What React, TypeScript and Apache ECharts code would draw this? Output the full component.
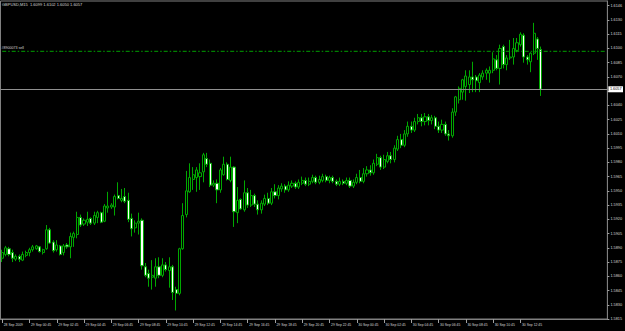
import React, { useEffect, useRef } from 'react';
import * as echarts from 'echarts';

// GBPUSD M15 candles, 28 Sep 2009 22:45 .. 30 Sep 2009 14:15
const opens = [
  1.5879, 1.5883, 1.5889, 1.5885, 1.5878, 1.5881, 1.5877, 1.5882, 1.5885, 1.5888,
  1.5889, 1.5891, 1.5885, 1.5889, 1.5909, 1.5896, 1.5888, 1.5892, 1.5885, 1.5893,
  1.5891, 1.5901, 1.5904, 1.5922, 1.5915, 1.5917, 1.5921, 1.5916, 1.5922, 1.5927,
  1.5918, 1.5932, 1.5933, 1.5933, 1.5945, 1.5940, 1.5944, 1.5940, 1.5921, 1.5911,
  1.5916, 1.5919, 1.5870, 1.5863, 1.5859, 1.5858, 1.5870, 1.5861, 1.5872, 1.5866,
  1.5870, 1.5846, 1.5842, 1.5889, 1.5925, 1.5949, 1.5962, 1.5964, 1.5965, 1.5970,
  1.5984, 1.5979, 1.5956, 1.5958, 1.5951, 1.5967, 1.5978, 1.5961, 1.5975, 1.5927,
  1.5941, 1.5930, 1.5948, 1.5935, 1.5945, 1.5936, 1.5930, 1.5936, 1.5942, 1.5937,
  1.5949, 1.5945, 1.5952, 1.5955, 1.5951, 1.5955, 1.5958, 1.5954, 1.5958, 1.5961,
  1.5957, 1.5960, 1.5964, 1.5959, 1.5961, 1.5965, 1.5961, 1.5964, 1.5960, 1.5957,
  1.5960, 1.5958, 1.5961, 1.5955, 1.5959, 1.5964, 1.5960, 1.5968, 1.5972, 1.5969,
  1.5978, 1.5985, 1.5975, 1.5981, 1.5987, 1.5983, 1.5994, 1.6004, 1.5998, 1.6010,
  1.6018, 1.6014, 1.6023, 1.6027, 1.6023, 1.6028, 1.6024, 1.6027, 1.6018, 1.6014,
  1.6020, 1.6010, 1.6008, 1.6033, 1.6046, 1.6054, 1.6060, 1.6062, 1.6070, 1.6070,
  1.6064, 1.6070, 1.6074, 1.6074, 1.6077, 1.6088, 1.6079, 1.6102, 1.6083, 1.6090,
  1.6091, 1.6098, 1.6104, 1.6114, 1.6091, 1.6086, 1.6095, 1.6110, 1.6099,
];
const closes = [
  1.5885, 1.5890, 1.5883, 1.5879, 1.5881, 1.5878, 1.5883, 1.5885, 1.5888, 1.5891,
  1.5892, 1.5886, 1.5888, 1.5909, 1.5895, 1.5887, 1.5893, 1.5883, 1.5892, 1.5891,
  1.5902, 1.5905, 1.5922, 1.5914, 1.5919, 1.5920, 1.5916, 1.5924, 1.5927, 1.5917,
  1.5934, 1.5934, 1.5935, 1.5944, 1.5942, 1.5942, 1.5939, 1.5920, 1.5910, 1.5916,
  1.5918, 1.5871, 1.5861, 1.5858, 1.5861, 1.5870, 1.5861, 1.5872, 1.5867, 1.5870,
  1.5843, 1.5842, 1.5889, 1.5924, 1.5950, 1.5964, 1.5967, 1.5972, 1.5969, 1.5988,
  1.5978, 1.5956, 1.5958, 1.5951, 1.5972, 1.5978, 1.5962, 1.5975, 1.5928, 1.5940,
  1.5931, 1.5948, 1.5935, 1.5945, 1.5936, 1.5930, 1.5937, 1.5942, 1.5937, 1.5949,
  1.5945, 1.5953, 1.5955, 1.5951, 1.5956, 1.5958, 1.5954, 1.5959, 1.5961, 1.5957,
  1.5960, 1.5964, 1.5959, 1.5962, 1.5965, 1.5961, 1.5964, 1.5960, 1.5957, 1.5960,
  1.5958, 1.5961, 1.5955, 1.5959, 1.5964, 1.5960, 1.5968, 1.5972, 1.5969, 1.5979,
  1.5985, 1.5975, 1.5983, 1.5987, 1.5983, 1.5995, 1.6004, 1.5998, 1.6010, 1.6018,
  1.6014, 1.6023, 1.6027, 1.6023, 1.6028, 1.6024, 1.6027, 1.6018, 1.6014, 1.6020,
  1.6010, 1.6008, 1.6033, 1.6049, 1.6058, 1.6067, 1.6071, 1.6070, 1.6067, 1.6066,
  1.6072, 1.6074, 1.6077, 1.6077, 1.6089, 1.6079, 1.6100, 1.6083, 1.6090, 1.6091,
  1.6100, 1.6106, 1.6115, 1.6091, 1.6088, 1.6095, 1.6116, 1.6100, 1.6057,
];
const lows = [
  1.5875, 1.5881, 1.5881, 1.5875, 1.5876, 1.5875, 1.5876, 1.5880, 1.5881, 1.5886,
  1.5888, 1.5885, 1.5883, 1.5888, 1.5894, 1.5885, 1.5886, 1.5882, 1.5882, 1.5889,
  1.5879, 1.5891, 1.5900, 1.5912, 1.5913, 1.5913, 1.5914, 1.5914, 1.5916, 1.5916,
  1.5917, 1.5927, 1.5931, 1.5924, 1.5941, 1.5938, 1.5937, 1.5917, 1.5902, 1.5906,
  1.5904, 1.5867, 1.5859, 1.5849, 1.5846, 1.5849, 1.5858, 1.5859, 1.5865, 1.5848,
  1.5835, 1.5824, 1.5840, 1.5888, 1.5922, 1.5948, 1.5951, 1.5949, 1.5951, 1.5959,
  1.5975, 1.5954, 1.5954, 1.5937, 1.5948, 1.5966, 1.5961, 1.5959, 1.5912, 1.5916,
  1.5930, 1.5928, 1.5932, 1.5933, 1.5933, 1.5925, 1.5926, 1.5934, 1.5935, 1.5935,
  1.5942, 1.5941, 1.5949, 1.5948, 1.5949, 1.5953, 1.5952, 1.5952, 1.5956, 1.5955,
  1.5955, 1.5958, 1.5957, 1.5957, 1.5959, 1.5959, 1.5958, 1.5958, 1.5955, 1.5955,
  1.5956, 1.5956, 1.5953, 1.5953, 1.5957, 1.5958, 1.5958, 1.5965, 1.5966, 1.5967,
  1.5976, 1.5972, 1.5973, 1.5979, 1.5979, 1.5980, 1.5992, 1.5995, 1.5996, 1.6007,
  1.6011, 1.6012, 1.6020, 1.6018, 1.6019, 1.6019, 1.6020, 1.6015, 1.6011, 1.6011,
  1.6008, 1.6003, 1.6006, 1.6029, 1.6042, 1.6046, 1.6045, 1.6053, 1.6054, 1.6054,
  1.6054, 1.6067, 1.6067, 1.6064, 1.6074, 1.6077, 1.6062, 1.6079, 1.6077, 1.6088,
  1.6083, 1.6096, 1.6102, 1.6085, 1.6083, 1.6075, 1.6093, 1.6088, 1.6050,
];
const highs = [
  1.5888, 1.5892, 1.5891, 1.5888, 1.5883, 1.5883, 1.5886, 1.5887, 1.5890, 1.5893,
  1.5893, 1.5892, 1.5889, 1.5914, 1.5911, 1.5898, 1.5898, 1.5893, 1.5894, 1.5895,
  1.5906, 1.5907, 1.5928, 1.5925, 1.5921, 1.5928, 1.5922, 1.5928, 1.5929, 1.5928,
  1.5936, 1.5949, 1.5937, 1.5946, 1.5959, 1.5952, 1.5953, 1.5948, 1.5926, 1.5919,
  1.5927, 1.5921, 1.5874, 1.5867, 1.5877, 1.5879, 1.5880, 1.5879, 1.5875, 1.5880,
  1.5872, 1.5849, 1.5890, 1.5937, 1.5971, 1.5979, 1.5975, 1.5975, 1.5979, 1.5990,
  1.5990, 1.5983, 1.5961, 1.5962, 1.5974, 1.5986, 1.5980, 1.5986, 1.5976, 1.5954,
  1.5942, 1.5961, 1.5953, 1.5951, 1.5947, 1.5940, 1.5940, 1.5946, 1.5948, 1.5953,
  1.5957, 1.5956, 1.5958, 1.5957, 1.5960, 1.5961, 1.5960, 1.5962, 1.5965, 1.5964,
  1.5964, 1.5967, 1.5966, 1.5966, 1.5968, 1.5967, 1.5966, 1.5966, 1.5962, 1.5964,
  1.5962, 1.5964, 1.5964, 1.5962, 1.5968, 1.5972, 1.5974, 1.5976, 1.5977, 1.5983,
  1.5989, 1.5987, 1.5988, 1.5991, 1.5991, 1.5998, 1.6008, 1.6010, 1.6014, 1.6023,
  1.6023, 1.6027, 1.6031, 1.6031, 1.6032, 1.6031, 1.6030, 1.6029, 1.6023, 1.6025,
  1.6023, 1.6014, 1.6037, 1.6050, 1.6060, 1.6068, 1.6077, 1.6077, 1.6086, 1.6072,
  1.6074, 1.6077, 1.6079, 1.6081, 1.6096, 1.6093, 1.6104, 1.6104, 1.6093, 1.6109,
  1.6111, 1.6111, 1.6117, 1.6116, 1.6093, 1.6096, 1.6127, 1.6112, 1.6102,
];

const xTickLabels = [
  '28 Sep 2009', '29 Sep 00:45', '29 Sep 02:45', '29 Sep 04:45', '29 Sep 06:45',
  '29 Sep 08:45', '29 Sep 10:45', '29 Sep 12:45', '29 Sep 14:45', '29 Sep 16:45',
  '29 Sep 18:45', '29 Sep 20:45', '29 Sep 22:45', '30 Sep 00:45', '30 Sep 02:45',
  '30 Sep 04:45', '30 Sep 06:45', '30 Sep 08:45', '30 Sep 10:45', '30 Sep 12:45',
];
// the 1.6055 slot is covered by the current-price box, so it has no label
const yTickLabels = [
  '1.5815', '1.5830', '1.5845', '1.5860', '1.5875', '1.5890', '1.5905', '1.5920',
  '1.5935', '1.5950', '1.5965', '1.5980', '1.5995', '1.6010', '1.6025', '1.6040',
  '', '1.6070', '1.6085', '1.6100', '1.6115', '1.6130', '1.6146',
];
const headerText = 'GBPUSD,M15  1.6099 1.6102 1.6050 1.6057';
const orderPrice = 1.6097;
const orderLabel = '#8900073 sell';
const lastPrice = 1.6057;
const barsPerLabel = 8;
const futureBars = 19;

const FONT = 'Liberation Sans, Arial, sans-serif';
const GREEN = '#00a800';
const ORDER_GREEN = '#00a000';

export default function App() {
  const ref = useRef<HTMLDivElement>(null);
  useEffect(() => {
    const chart = echarts.init(ref.current!, null, { renderer: 'svg' });
    const n = opens.length;
    const cats = Array.from({ length: n + futureBars }, (_, i) => String(i));
    const data = opens.map((o, i) => [o, closes[i], lows[i], highs[i]]);
    const showTick = (i: number) =>
      i % barsPerLabel === 0 && i / barsPerLabel < xTickLabels.length;

    chart.setOption({
      animation: false,
      backgroundColor: '#000000',
      title: {
        text: headerText,
        left: 2,
        top: 2,
        padding: 0,
        textStyle: { color: '#d8d8d8', fontSize: 4, fontWeight: 'normal', fontFamily: FONT },
      },
      grid: {
        left: 0.5,
        right: 16,
        top: 1,
        bottom: 12,
        show: true,
        borderColor: '#808080',
        borderWidth: 1,
      },
      xAxis: {
        type: 'category',
        data: cats,
        boundaryGap: true,
        axisLine: { show: true, lineStyle: { color: '#808080' } },
        axisTick: {
          show: true,
          alignWithLabel: true,
          interval: (i: number) => showTick(i),
          length: 4,
          lineStyle: { color: '#a0a0a0' },
        },
        axisLabel: {
          interval: (i: number) => showTick(i),
          formatter: (_v: string, i: number) => xTickLabels[i / barsPerLabel] ?? '',
          align: 'left',
          color: '#d8d8d8',
          fontSize: 3.4,
          fontFamily: FONT,
          margin: 4,
          padding: [0, 0, 0, 1.5],
        },
        splitLine: { show: false },
      },
      yAxis: {
        type: 'value',
        position: 'right',
        min: 1.5815,
        max: 1.615,
        interval: 0.0015,
        splitLine: { show: false },
        axisLine: { show: true, lineStyle: { color: '#808080' } },
        axisTick: { show: true, length: 2, lineStyle: { color: '#a0a0a0' } },
        axisLabel: {
          color: '#d8d8d8',
          fontSize: 3.8,
          fontFamily: FONT,
          margin: 3,
          showMaxLabel: false,
          formatter: (_v: number, i: number) => yTickLabels[i] ?? '',
        },
      },
      series: [
        {
          type: 'candlestick',
          data,
          barWidth: 2.6,
          itemStyle: {
            color: '#000000',
            color0: '#ffffff',
            borderColor: GREEN,
            borderColor0: GREEN,
            borderWidth: 1,
          },
        },
        {
          // sell-order level, drawn as a two-point line across the whole axis
          type: 'line',
          name: 'order',
          data: [
            [cats[0], orderPrice],
            [cats[cats.length - 1], orderPrice],
          ],
          symbol: 'none',
          silent: true,
          color: ORDER_GREEN,
          itemStyle: { color: ORDER_GREEN },
          lineStyle: { color: ORDER_GREEN, type: [4, 2, 1.5, 2], width: 1 },
          markLine: {
            symbol: ['none', 'none'],
            silent: true,
            animation: false,
            precision: 4,
            lineStyle: { color: ORDER_GREEN, width: 0, type: [4, 2, 1.5, 2] },
            label: {
              show: true,
              position: 'insideStartTop',
              formatter: orderLabel,
              color: '#d8d8d8',
              opacity: 1,
              fontSize: 3.6,
              fontFamily: FONT,
              distance: 1,
            },
            data: [{ yAxis: orderPrice }],
          },
        },
        {
          type: 'line',
          name: 'price',
          data: [],
          silent: true,
          itemStyle: { color: '#909090' },
          lineStyle: { color: '#909090' },
          markLine: {
            symbol: ['none', 'none'],
            silent: true,
            animation: false,
            precision: 4,
            lineStyle: { color: '#909090', type: 'solid', width: 1, opacity: 1 },
            label: {
              show: true,
              position: 'end',
              formatter: lastPrice.toFixed(4),
              color: '#000000',
              backgroundColor: '#ffffff',
              fontSize: 3.8,
              fontFamily: FONT,
              padding: [1, 1.5],
              distance: 1,
            },
            data: [{ yAxis: lastPrice }],
          },
        },
      ],
    });
    return () => chart.dispose();
  }, []);
  return (
    <div
      ref={ref}
      style={{ position: 'fixed', left: 0, top: 0, width: 625, height: 331, background: '#000' }}
    />
  );
}
